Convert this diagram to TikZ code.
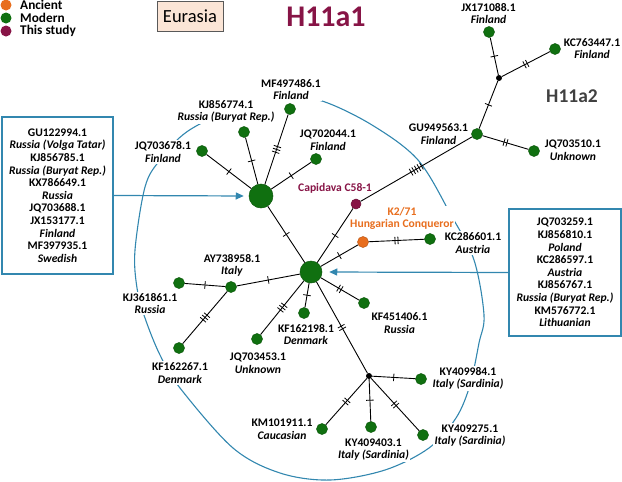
\documentclass[tikz,border=0pt]{standalone}
\usepackage{fontspec}
\setmainfont{Carlito}
\usetikzlibrary{decorations.markings,arrows.meta}
\definecolor{gn}{RGB}{16,112,16}
\definecolor{org}{RGB}{232,110,30}
\definecolor{mar}{RGB}{135,20,70}
\definecolor{bl}{RGB}{50,135,175}
\definecolor{beige}{RGB}{251,229,214}
\definecolor{dg}{RGB}{64,64,64}
\begin{document}
\begin{tikzpicture}[x=1pt,y=-1pt,
 hap/.style={circle,fill=gn,draw=gn!80!black,line width=0.5pt,inner sep=0pt,minimum size=11pt},
 hub/.style={hap,minimum size=24pt},
 jn/.style={circle,fill=black,inner sep=0pt,minimum size=6pt},
 lbl/.style={align=center,font=\fontsize{11.6}{12.6}\selectfont\bfseries,inner sep=1.5pt,fill=white},
 legt/.style={anchor=west,inner sep=0pt,font=\fontsize{13.3}{13}\selectfont\bfseries},
 cn/.style={line width=0.9pt},
 tk/.style={postaction={decorate,decoration={markings,mark=at position 0.5 with {\foreach \o in {#1} {\draw[line width=0.8pt] (\o pt,-3.8pt)--(\o pt,3.8pt);}}}}},
 bx/.style={draw=bl,line width=1.2pt,align=center,font=\fontsize{11.6}{12.6}\selectfont\bfseries},
 barrow/.style={draw=bl,line width=1.2pt,-{Triangle[length=8pt,width=7pt]}}]
\useasboundingbox (0,0) rectangle (622,482);
% surrounding arc
\draw[bl,line width=1.1pt] plot[smooth cycle,tension=0.55] coordinates {(322,101) (372,125) (418,160) (451,215) (474,260) (484,315) (479,343) (470,385) (456,418) (429,448) (385,470) (330,480) (280,473) (233,448) (180,388) (160,355) (145,318) (137,288) (135,250) (145,187) (160,160) (188,131) (240,106) (285,98)};
% legend
\node[circle,fill=org,minimum size=11pt,inner sep=0pt] (lg1) at (6,5) {};
\node[circle,fill=gn,minimum size=11pt,inner sep=0pt] (lg2) at (6,18) {};
\node[circle,fill=mar,minimum size=11pt,inner sep=0pt] (lg3) at (6,31) {};
\node[legt] (lgt1) at (20,5) {Ancient};
\node[legt] (lgt2) at (20,18) {Modern};
\node[legt] (lgt3) at (20,31) {This study};
% titles
\node[draw=gray!70!black,line width=0.6pt,fill=beige,minimum width=66pt,minimum height=30pt,font=\fontsize{18.5}{20}\selectfont] (eu) at (190,16) {Eurasia};
\node[font=\fontsize{30}{30}\selectfont\bfseries,text=mar] (t1) at (326,17) {H11a1};
\node[font=\fontsize{19.5}{19}\selectfont\bfseries,text=dg] (t2) at (572,96) {H11a2};
% labels
\node[lbl] (l1) at (163,152) {JQ703678.1\\\textit{Finland}};
\node[lbl] (l2) at (226,111.5) {KJ856774.1\\\textit{Russia (Buryat Rep.)}};
\node[lbl] (l3) at (291,89.5) {MF497486.1\\\textit{Finland}};
\node[lbl] (l4) at (328,140) {JQ702044.1\\\textit{Finland}};
\node[lbl,fill=none,text=mar] (l5) at (335,188) {Capidava C58-1};
\node[lbl,text=org] (l6) at (402,218.5) {K2/71\\Hungarian Conqueror};
\node[lbl] (l7) at (473,243) {KC286601.1\\\textit{Austria}};
\node[lbl] (l8) at (399.5,323) {KF451406.1\\\textit{Russia}};
\node[lbl] (l9) at (306,334.5) {KF162198.1\\\textit{Denmark}};
\node[lbl] (l10) at (258,363) {JQ703453.1\\\textit{Unknown}};
\node[lbl] (l11) at (232,265.5) {AY738958.1\\\textit{Italy}};
\node[lbl] (l12) at (150,303.5) {KJ361861.1\\\textit{Russia}};
\node[lbl] (l13) at (180,373) {KF162267.1\\\textit{Denmark}};
\node[lbl] (l14) at (468,378.5) {KY409984.1\\\textit{Italy (Sardinia)}};
\node[lbl] (l15) at (470,435.5) {KY409275.1\\\textit{Italy (Sardinia)}};
\node[lbl] (l16) at (373.5,449.5) {KY409403.1\\\textit{Italy (Sardinia)}};
\node[lbl] (l17) at (282,429.5) {KM101911.1\\\textit{Caucasian}};
\node[lbl] (l18) at (488.5,13.5) {JX171088.1\\\textit{Finland}};
\node[lbl] (l19) at (592,48.5) {KC763447.1\\\textit{Finland}};
\node[lbl] (l20) at (438.5,134) {GU949563.1\\\textit{Finland}};
\node[lbl] (l21) at (573,150) {JQ703510.1\\\textit{Unknown}};
% haplotype nodes
\node[hub] (A) at (261,196) {};
\node[hap,minimum size=22pt] (B) at (311,272) {};
\node[hap] (n1) at (202,151) {};
\node[hap] (n2) at (244,132) {};
\node[hap] (n3) at (290,109) {};
\node[hap] (n4) at (316,159) {};
\node[circle,fill=mar,draw=mar!80!black,line width=0.5pt,minimum size=10pt,inner sep=0pt] (cap) at (356,204) {};
\node[circle,fill=org,draw=org!80!black,line width=0.5pt,minimum size=11pt,inner sep=0pt] (k2) at (363,242) {};
\node[hap] (kc) at (430,239) {};
\node[hap] (kf45) at (364,303) {};
\node[hap] (kf198) at (304,313) {};
\node[hap] (jq453) at (257,339) {};
\node[hap] (ay) at (231,287) {};
\node[hap] (kj36) at (179,283) {};
\node[hap] (kf267) at (179,348) {};
\node[jn] (J) at (369,376) {};
\node[hap] (ky984) at (421,379) {};
\node[hap] (ky275) at (423,435) {};
\node[hap] (ky403) at (371,427) {};
\node[hap] (km) at (322,429) {};
\node[hap] (gu) at (477,134) {};
\node[jn] (T) at (499,78) {};
\node[hap] (jx) at (489,32) {};
\node[hap] (kc76) at (555,49) {};
\node[hap] (jq510) at (534,151) {};
% connectors
\draw[cn,tk={0}] (A) -- (n1);
\draw[cn,tk={0}] (A) -- (n2);
\draw[cn,tk={-3,0,3}] (A) -- (n3);
\draw[cn,tk={0}] (A) -- (n4);
\draw[cn,tk={0}] (A) -- (B);
\draw[cn,tk={0}] (B) -- (cap);
\draw[cn,tk={0}] (B) -- (k2);
\draw[cn,tk={-1.5,1.5}] (k2) -- (kc);
\draw[cn,tk={-1.5,1.5}] (B) -- (kf45);
\draw[cn,tk={0}] (B) -- (kf198);
\draw[cn,tk={-3,0,3}] (B) -- (jq453);
\draw[cn,tk={0}] (B) -- (ay);
\draw[cn,tk={-1.5,1.5}] (B) -- (J);
\draw[cn,tk={-6,-3,0,3,6}] (cap) -- (gu);
\draw[cn,tk={0}] (ay) -- (kj36);
\draw[cn,tk={-3,0,3}] (ay) -- (kf267);
\draw[cn,tk={0}] (J) -- (ky984);
\draw[cn,tk={-1.5,1.5}] (J) -- (ky275);
\draw[cn,tk={0}] (J) -- (ky403);
\draw[cn,tk={-1.5,1.5}] (J) -- (km);
\draw[cn,tk={0}] (gu) -- (T);
\draw[cn,tk={0}] (T) -- (jx);
\draw[cn,tk={-1.5,1.5}] (T) -- (kc76);
\draw[cn,tk={-1.5,1.5}] (gu) -- (jq510);
% boxes
\node[bx,minimum width=111pt,minimum height=157pt] (lb) at (57.5,195.5) {GU122994.1\\\textit{Russia (Volga Tatar)}\\KJ856785.1\\\textit{Russia (Buryat Rep.)}\\KX786649.1\\\textit{Russia}\\JQ703688.1\\JX153177.1\\\textit{Finland}\\MF397935.1\\\textit{Swedish}};
\node[bx,minimum width=112pt,minimum height=127pt] (rb) at (565,272.5) {JQ703259.1\\KJ856810.1\\\textit{Poland}\\KC286597.1\\\textit{Austria}\\KJ856767.1\\\textit{Russia (Buryat Rep.)}\\KM576772.1\\\textit{Lithuanian}};
\draw[barrow,shorten >=5pt] (lb.east) -- (A.west);
\draw[barrow,shorten >=7pt] (rb.west) -- (B.east);
\end{tikzpicture}
\end{document}
